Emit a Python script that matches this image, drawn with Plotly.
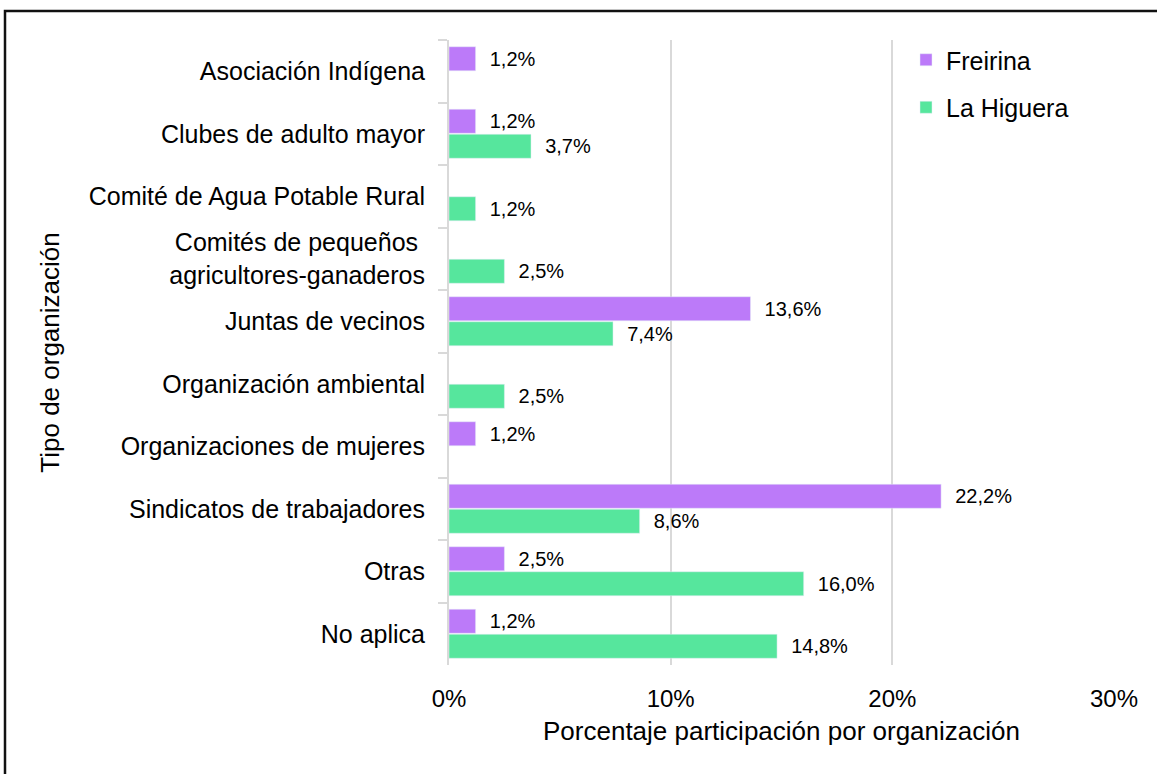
import plotly.graph_objects as go

categories = [
    "Asociación Indígena",
    "Clubes de adulto mayor",
    "Comité de Agua Potable Rural",
    "Comités de pequeños <br>agricultores-ganaderos",
    "Juntas de vecinos",
    "Organización ambiental",
    "Organizaciones de mujeres",
    "Sindicatos de trabajadores",
    "Otras",
    "No aplica",
]
freirina = [1.2, 1.2, None, None, 13.6, None, 1.2, 22.2, 2.5, 1.2]
la_higuera = [None, 3.7, 1.2, 2.5, 7.4, 2.5, None, 8.6, 16.0, 14.8]
x_ticks = [0, 10, 20, 30]
x_tick_labels = ["0%", "10%", "20%", "30%"]

PURPLE = "#BC7AF9"
GREEN = "#56E69D"
FONT = "Liberation Sans, Arial, sans-serif"
NB = "\u00a0\u00a0"


def labels(vals):
    return [("" if v is None else NB + f"{v:.1f}".replace(".", ",") + "%") for v in vals]


fig = go.Figure()
fig.add_trace(go.Bar(
    y=categories, x=freirina, orientation="h", name="Freirina",
    marker=dict(color=PURPLE), text=labels(freirina), textposition="outside",
    textfont=dict(size=20, color="#000"), cliponaxis=False, legendgroup="f",
))
fig.add_trace(go.Bar(
    y=categories, x=la_higuera, orientation="h", name="La Higuera",
    marker=dict(color=GREEN), text=labels(la_higuera), textposition="outside",
    textfont=dict(size=20, color="#000"), cliponaxis=False, legendgroup="l",
))

L, R, T, B = 449, 43, 40, 109
W, H = 1157, 774
pw, ph = W - L - R, H - T - B

def px_to_paper_x(px):
    return (px - L) / pw

def px_to_paper_y(py):
    return (H - B - py) / ph

fig.update_layout(
    width=W, height=H,
    margin=dict(l=L, r=R, t=T, b=B),
    paper_bgcolor="white", plot_bgcolor="white",
    font=dict(family=FONT, size=25, color="#000"),
    barmode="group", bargap=0.2, bargroupgap=0.04,
    showlegend=True,
    legend=dict(
        x=px_to_paper_x(906), y=px_to_paper_y(37), xanchor="left", yanchor="top",
        font=dict(size=25), bgcolor="rgba(0,0,0,0)", traceorder="grouped",
        tracegroupgap=12,
    ),
    xaxis=dict(
        range=[0, 30], tickvals=x_ticks, ticktext=x_tick_labels,
        showgrid=True, gridcolor="#D9D9D9", gridwidth=2, zeroline=False,
        showline=False, ticks="", ticklabelstandoff=17,
        tickfont=dict(size=24),
        title=dict(text="Porcentaje participación por organización", font=dict(size=26), standoff=10),
        automargin=False,
    ),
    yaxis=dict(
        autorange="reversed", showline=True, linecolor="#D9D9D9", linewidth=2,
        ticks="outside", tickson="boundaries", ticklen=9, tickcolor="#D9D9D9", tickwidth=2,
        ticklabelstandoff=17, tickfont=dict(size=25), showgrid=False,
        title=dict(text="Tipo de organización", font=dict(size=26), standoff=22),
        automargin=True,
    ),
    shapes=[dict(
        type="rect", xref="paper", yref="paper",
        x0=px_to_paper_x(5), x1=px_to_paper_x(1300),
        y0=px_to_paper_y(900), y1=px_to_paper_y(11),
        line=dict(color="#111", width=2.5), fillcolor="rgba(0,0,0,0)",
    )],
)

fig.write_html(
    "out.html",
    config={"displayModeBar": False},
    post_script="document.body.style.margin='0';",
)
